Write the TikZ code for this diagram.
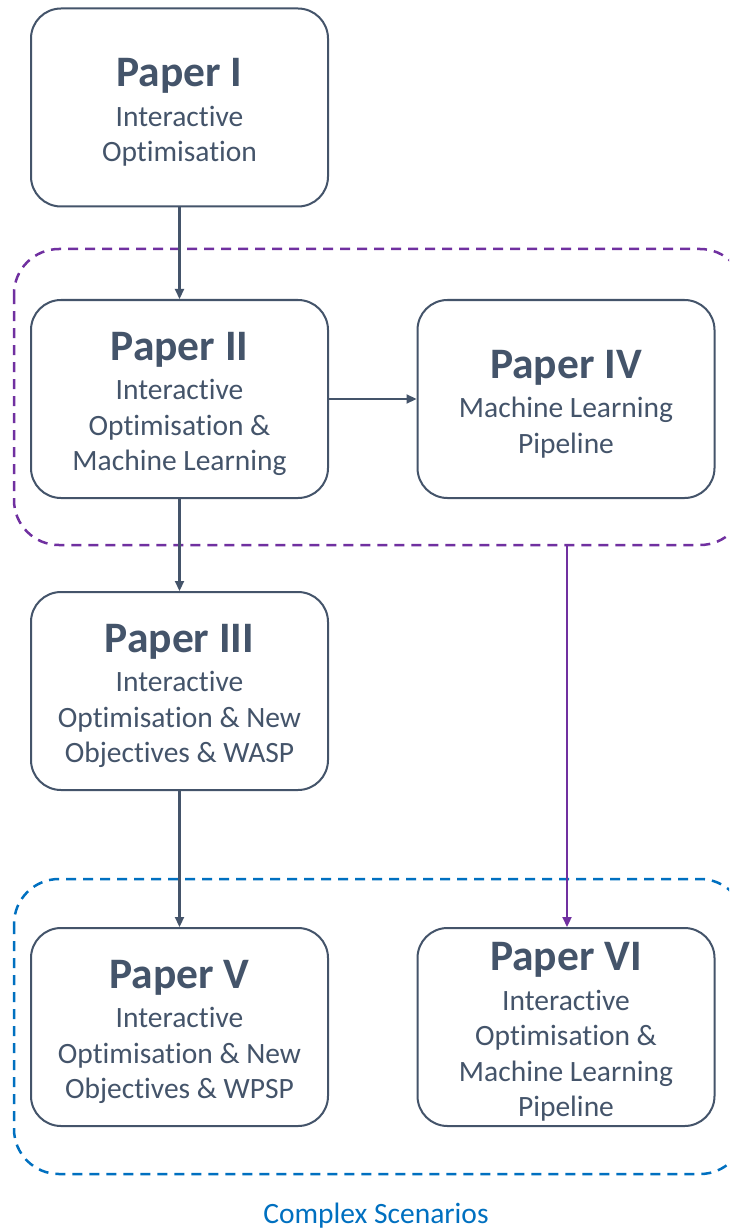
\documentclass[tikz,border=0pt]{standalone}
\usepackage{fontspec}
\setmainfont{Carlito}[Ligatures={NoCommon}]
\usetikzlibrary{arrows.meta}
\definecolor{slate}{HTML}{44546A}
\definecolor{grape}{HTML}{7030A0}
\definecolor{ocean}{HTML}{0070C0}
\tikzset{
  paper/.style={draw=slate, line width=2pt, rounded corners=30pt,
    minimum width=297pt, minimum height=198pt, align=center, text=slate,
    font=\fontsize{29.5}{35.5}\selectfont, inner sep=0pt},
  link/.style={draw=slate, line width=2.2pt, -{Triangle[length=10pt,width=9pt]}},
  grouppurple/.style={draw=grape, line width=2.5pt, dash pattern=on 10pt off 7pt, rounded corners=45pt},
  groupblue/.style={draw=ocean, line width=2.5pt, dash pattern=on 10pt off 7pt, rounded corners=45pt},
}
\newcommand{\ptitle}[1]{{\fontsize{43.5}{43.5}\selectfont\bfseries\rule{0pt}{38.5pt}#1}\\[4pt]}
\begin{document}
\begin{tikzpicture}[x=1pt,y=-1pt]
\clip (0,0) rectangle (729,1230);
\fill[white] (0,0) rectangle (729,1230);

% dashed groupings
\draw[grouppurple] (14,249) rectangle (745,545);
\draw[groupblue] (14,879) rectangle (745,1174);
\coordinate (gp) at (567,545);

% papers
\node[paper] (p1) at (179.5,107.5) {\ptitle{Paper I}Interactive\\Optimisation};
\node[paper] (p2) at (179.5,399) {\ptitle{Paper II}Interactive\\Optimisation \&\\Machine Learning};
\node[paper] (p4) at (566,399) {\ptitle{Paper IV}Machine Learning\\Pipeline};
\node[paper] (p3) at (179.5,691) {\ptitle{Paper III}Interactive\\Optimisation \& New\\Objectives \& WASP};
\node[paper] (p5) at (179.5,1027) {\ptitle{Paper V}Interactive\\Optimisation \& New\\Objectives \& WPSP};
\node[paper] (p6) at (566,1027) {\ptitle{Paper VI}Interactive\\Optimisation \&\\Machine Learning\\Pipeline};

% connectors
\draw[link] (p1) -- (p2);
\draw[link] (p2) -- (p4);
\draw[link] (p2) -- (p3);
\draw[link] (p3) -- (p5);
\draw[link, draw=grape, fill=grape] (gp) -- (gp |- p6.north);

\node[text=ocean, font=\fontsize{29.5}{34}\selectfont, anchor=base] (cs) at (376,1223) {Complex Scenarios};
\end{tikzpicture}
\end{document}
